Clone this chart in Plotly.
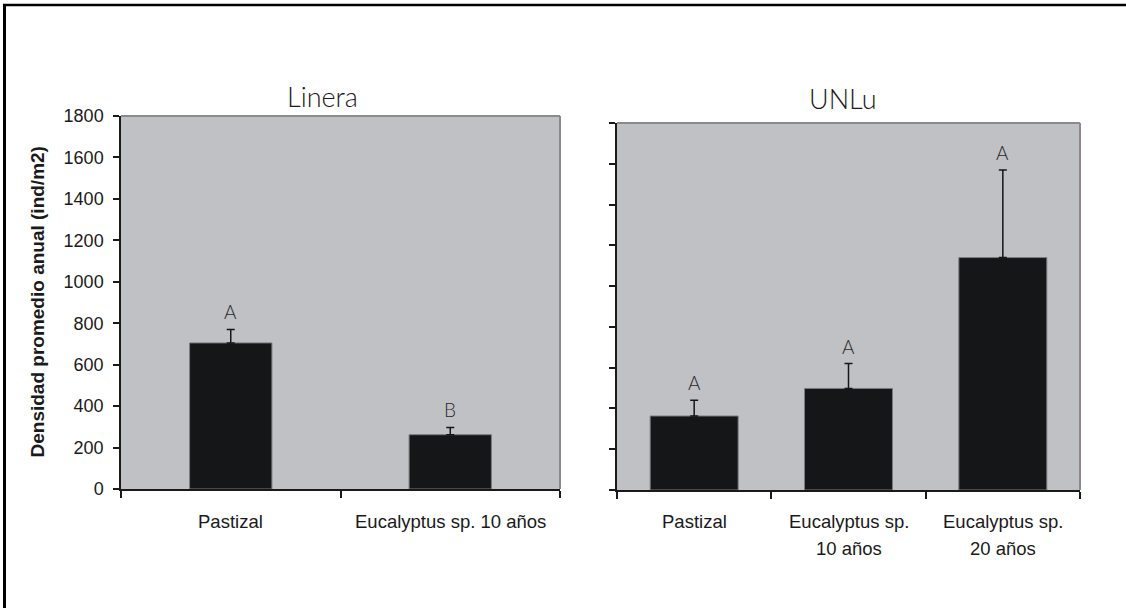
import plotly.graph_objects as go

# ---------------- data ----------------
linera_cats = ["Pastizal", "Eucalyptus sp. 10 años"]
linera_mean = [705, 262]
linera_err = [65, 35]
linera_letters = ["A", "B"]

unlu_cats = ["Pastizal", "Eucalyptus sp.\n10 años", "Eucalyptus sp.\n20 años"]
unlu_mean = [363, 498, 1140]
unlu_err = [77, 122, 430]
unlu_letters = ["A", "A", "A"]

y_ticks = [0, 200, 400, 600, 800, 1000, 1200, 1400, 1600, 1800]

BAR = "#151618"
BG = "#c0c1c5"
W, H = 1126, 608

fig = go.Figure()

fig.add_trace(go.Bar(
    x=list(range(len(linera_cats))), y=linera_mean, width=0.375,
    marker=dict(color=BAR, line=dict(color="#7a7b7e", width=1)),
    error_y=dict(type="data", symmetric=False, array=linera_err,
                 arrayminus=[0] * len(linera_err), color="#151618",
                 thickness=1.5, width=4),
    xaxis="x", yaxis="y", showlegend=False))

fig.add_trace(go.Bar(
    x=list(range(len(unlu_cats))), y=unlu_mean, width=0.57,
    marker=dict(color=BAR, line=dict(color="#7a7b7e", width=1)),
    error_y=dict(type="data", symmetric=False, array=unlu_err,
                 arrayminus=[0] * len(unlu_err), color="#151618",
                 thickness=1.5, width=4),
    xaxis="x2", yaxis="y2", showlegend=False))

tickfont = dict(family="Liberation Sans, Arial", size=18, color="#1a1a1a")

def xaxis(n, domain, anchor):
    return dict(domain=domain, anchor=anchor, range=[-0.5, n - 0.5],
                showline=True, linecolor="#1a1a1a", linewidth=1.5,
                showgrid=False, zeroline=False, showticklabels=False,
                ticks="", fixedrange=True, automargin=False,
                minor=dict(tickmode="array",
                           tickvals=[i - 0.5 for i in range(n + 1)],
                           ticks="outside", ticklen=7, tickwidth=1.5,
                           tickcolor="#1a1a1a", showgrid=False))

def yaxis(domain, anchor, labels):
    return dict(domain=domain, anchor=anchor, range=[0, 1800],
                tickmode="array", tickvals=y_ticks,
                showticklabels=labels, tickfont=tickfont,
                ticks="outside", ticklen=6, tickwidth=1.5,
                ticklabelstandoff=6,
                tickcolor="#1a1a1a", showline=True, linecolor="#1a1a1a",
                linewidth=1.5, showgrid=False, zeroline=False,
                fixedrange=True, automargin=False)

xl = [121 / W, 560 / W]
yl = [1 - 489 / H, 1 - 116 / H]
xr = [617 / W, 1080 / W]
yr = [1 - 490 / H, 1 - 123 / H]

fig.update_layout(
    width=W, height=H, autosize=False,
    margin=dict(l=0, r=0, t=0, b=0, pad=0),
    paper_bgcolor="white",
    plot_bgcolor=BG,
    barmode="overlay",
    xaxis=xaxis(len(linera_cats), xl, "y"),
    yaxis=yaxis(yl, "x", True),
    xaxis2=xaxis(len(unlu_cats), xr, "y2"),
    yaxis2=yaxis(yr, "x2", False),
)

shapes = []
for xa, ya in (("x", "y"), ("x2", "y2")):
    shapes.append(dict(type="line", xref=f"{xa} domain", yref=f"{ya} domain",
                       x0=0, x1=1, y0=1, y1=1,
                       line=dict(color="#8a8b8e", width=2)))
    shapes.append(dict(type="line", xref=f"{xa} domain", yref=f"{ya} domain",
                       x0=1, x1=1, y0=0, y1=1,
                       line=dict(color="#8a8b8e", width=2)))
shapes.append(dict(type="line", xref="paper", yref="paper",
                   x0=3 / W, x1=1, y0=1 - 5 / H, y1=1 - 5 / H,
                   line=dict(color="black", width=2.5)))
shapes.append(dict(type="line", xref="paper", yref="paper",
                   x0=4.5 / W, x1=4.5 / W, y0=0, y1=1 - 4 / H,
                   line=dict(color="black", width=3)))
fig.update_layout(shapes=shapes)

ann = []
titlefont = dict(family="Lato, Open Sans", size=27, color="#1a1a1a", weight=300)
ann.append(dict(text="Linera", x=322 / W, y=1 - 97 / H, xref="paper", yref="paper",
                showarrow=False, font=titlefont, xanchor="center", yanchor="middle"))
ann.append(dict(text="UNLu", x=843 / W, y=1 - 98 / H, xref="paper", yref="paper",
                showarrow=False, font=titlefont, xanchor="center", yanchor="middle"))
ann.append(dict(text="<b>Densidad promedio anual (ind/m2)</b>", x=37 / W,
                y=(yl[0] + yl[1]) / 2, xref="paper", yref="paper", textangle=-90,
                showarrow=False, xanchor="center", yanchor="middle",
                font=dict(family="Liberation Sans, Arial", size=19, color="#1a1a1a")))

letterfont = dict(family="Lato, Open Sans", size=19, color="#2a2a2a", weight=300)
for xa, ya, means, errs, lets in (("x", "y", linera_mean, linera_err, linera_letters),
                                   ("x2", "y2", unlu_mean, unlu_err, unlu_letters)):
    for i, (m, e, l) in enumerate(zip(means, errs, lets)):
        ann.append(dict(text=l, x=i, y=m + e, xref=xa, yref=ya, showarrow=False,
                        yanchor="bottom", yshift=4, font=letterfont))

labfont = dict(family="Liberation Sans Narrow, Liberation Sans, Arial", size=18.5,
               color="#1a1a1a")
for xa, cats in (("x", linera_cats), ("x2", unlu_cats)):
    for i, c in enumerate(cats):
        for j, line in enumerate(c.split("\n")):
            ann.append(dict(text=line, x=i, y=1 - (521 + 27 * j) / H, xref=xa,
                            yref="paper", showarrow=False, xanchor="center",
                            yanchor="middle", font=labfont))

fig.update_layout(annotations=ann)

fig.write_html(
    "out.html",
    config={"responsive": False, "displayModeBar": False},
    post_script="document.body.style.margin='0';document.body.style.overflow='hidden';",
)
